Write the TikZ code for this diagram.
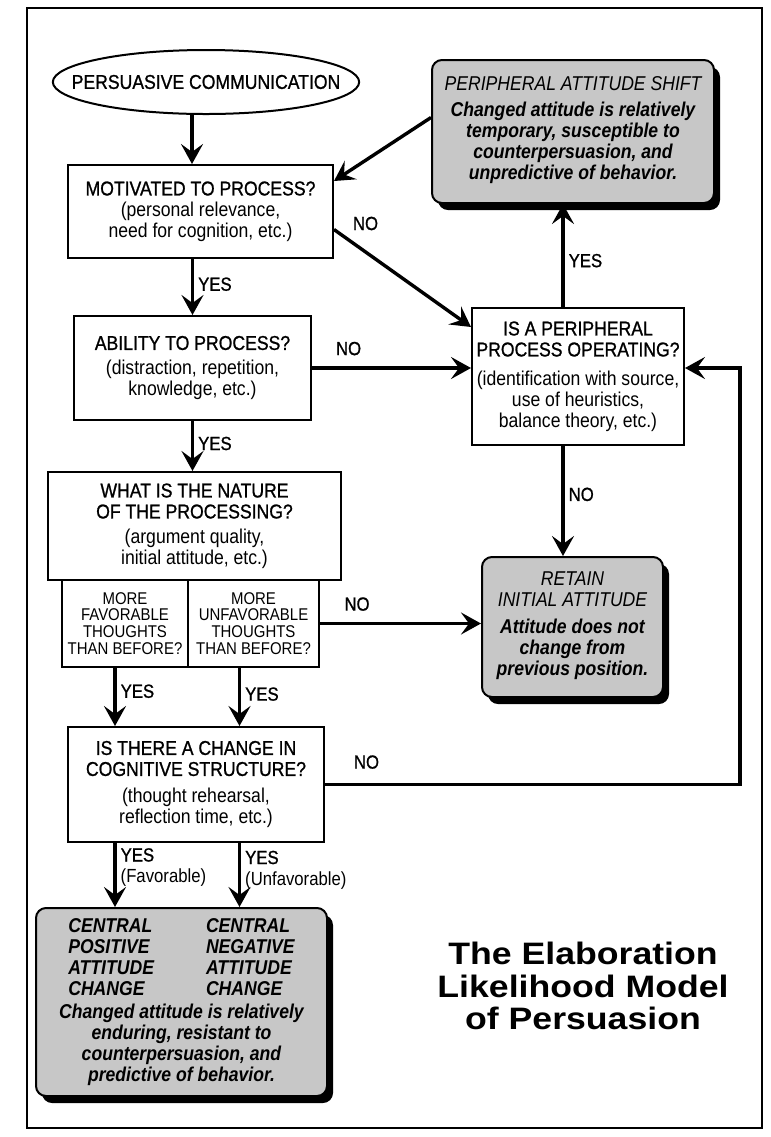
\documentclass[tikz,border=0pt]{standalone}
\usepackage{fontspec}
\setmainfont{Liberation Sans}[FakeStretch=0.88]
\newfontfamily\headfont{Liberation Sans}[FakeStretch=0.88, FakeBold=1]
\newfontfamily\titlefont{Liberation Sans}[FakeStretch=1.15]
\usetikzlibrary{arrows.meta,shapes.geometric,shadows}

\begin{document}
\begin{tikzpicture}[x=0.5pt, y=-0.5pt,
  box/.style = {draw, line width=1pt, inner sep=2pt, align=center,
    font=\fontsize{10}{10.5}\selectfont},
  note/.style = {box, rounded corners=5pt, fill=black!22,
    drop shadow={shadow xshift=3pt, shadow yshift=-3.5pt, opacity=1, fill=black},
    font=\fontsize{10}{10.5}\selectfont\itshape},
  small/.style = {box, font=\fontsize{8.5}{8.4}\selectfont},
  arr/.style = {line width=1.7pt, -{Stealth[length=10pt, width=11pt, inset=4pt]}},
  lab/.style = {font=\fontsize{9.5}{10.5}\selectfont, inner sep=2pt}]

  \useasboundingbox (0,0) rectangle (771,1137);
  \draw[line width=1pt] (27,8) rectangle (762,1128);

  % central route
  \node[draw, ellipse, line width=1pt, minimum height=32pt, inner xsep=-13pt, inner ysep=0pt,
    font=\fontsize{10}{10.5}\selectfont\headfont] (comm) at (206,82) {PERSUASIVE COMMUNICATION};
  \node[box, minimum width=132.5pt, minimum height=46.5pt] (motiv) at (200.5,211.5)
    {{\headfont MOTIVATED TO PROCESS?}\\ (personal relevance,\\ need for cognition, etc.)};
  \node[box, minimum width=118.5pt, minimum height=52pt] (ability) at (192.5,368)
    {{\headfont ABILITY TO PROCESS?}\\[2pt] (distraction, repetition,\\ knowledge, etc.)};
  \node[box, minimum width=146.5pt, minimum height=54pt] (nature) at (194.5,526)
    {{\headfont WHAT IS THE NATURE}\\ {\headfont OF THE PROCESSING?}\\[2pt] (argument quality,\\ initial attitude, etc.)};
  \node[small, minimum width=63pt, minimum height=43.5pt] (fav) at (125,623.5)
    {MORE\\ FAVORABLE\\ THOUGHTS\\ THAN BEFORE?};
  \node[small, minimum width=65.5pt, minimum height=43.5pt] (unfav) at (253.5,623.5)
    {MORE\\ UNFAVORABLE\\ THOUGHTS\\ THAN BEFORE?};
  \node[box, minimum width=128pt, minimum height=57.5pt] (change) at (196,784.5)
    {{\headfont IS THERE A CHANGE IN}\\ {\headfont COGNITIVE STRUCTURE?}\\[3pt] (thought rehearsal,\\ reflection time, etc.)};
  \node[note, minimum width=145.5pt, minimum height=94pt,
    font=\fontsize{10}{10.5}\selectfont\bfseries\itshape] (central) at (181.5,1002)
    {\begin{tabular}{@{}l@{\hspace{26pt}}l@{}}CENTRAL & CENTRAL\\ POSITIVE & NEGATIVE\\
      ATTITUDE & ATTITUDE\\ CHANGE & CHANGE\end{tabular}\\
     Changed attitude is relatively\\ enduring, resistant to\\ counterpersuasion, and\\ predictive of behavior.};

  % peripheral route
  \node[note, minimum width=141pt, minimum height=71.5pt] (shift) at (573,131.5)
    {PERIPHERAL ATTITUDE SHIFT\\[4.5pt]
     {\bfseries\begin{tabular}{@{}c@{}}Changed attitude is relatively\\ temporary, susceptible to\\
      counterpersuasion, and\\ unpredictive of behavior.\end{tabular}}};
  \node[box, minimum width=106pt, minimum height=68.5pt] (periph) at (578,376.5)
    {{\headfont IS A PERIPHERAL}\\ {\headfont PROCESS OPERATING?}\\[4pt] (identification with source,\\ use of heuristics,\\ balance theory, etc.)};
  \node[note, minimum width=90.5pt, minimum height=70pt] (retain) at (572.5,627)
    {RETAIN\\ INITIAL ATTITUDE\\[5pt]
     {\bfseries\begin{tabular}{@{}c@{}}Attitude does not\\ change from\\ previous position.\end{tabular}}};

  \node[font=\titlefont\bfseries\fontsize{15.5}{16.25}\selectfont, align=center] (title) at (583,986)
    {The Elaboration\\ Likelihood Model\\ of Persuasion};

  \coordinate (loop) at (740,368);

  \draw[arr] ([xshift=-7pt]comm.south) -- ([xshift=-7pt]comm.south |- motiv.north);
  \draw[arr] (ability.north |- motiv.south) -- node[lab, right, pos=0.45] {\headfont YES} (ability.north);
  \draw[arr] (ability.south) -- node[lab, right, pos=0.45] {\headfont YES} (ability.south |- nature.north);
  \draw[arr] ([xshift=-5pt]fav.south) -- node[lab, right, pos=0.4] {\headfont YES} ([xshift=-5pt]fav.south |- change.north);
  \draw[arr] ([xshift=-7pt]unfav.south) -- node[lab, right, pos=0.45] {\headfont YES} ([xshift=-7pt]unfav.south |- change.north);
  \draw[arr] ([xshift=-5pt]fav.south |- change.south) -- node[lab, right, align=left, pos=0.38] {{\headfont YES}\\ (Favorable)}
    ([xshift=-5pt]fav.south |- central.north);
  \draw[arr] ([xshift=-7pt]unfav.south |- change.south) -- node[lab, right, align=left, pos=0.42] {{\headfont YES}\\ (Unfavorable)}
    ([xshift=-7pt]unfav.south |- central.north);

  \draw[arr] ([yshift=7pt]shift.west) -- ([yshift=-8.5pt]motiv.north east);
  \draw[arr] ([yshift=-9pt]motiv.east) -- node[lab, pos=0.23, above, yshift=8pt] {\headfont NO} ([yshift=-10pt]periph.north west);
  \draw[arr] (ability.east) -- node[lab, pos=0.23, above, yshift=3.5pt] {\headfont NO} (ability.east -| periph.west);
  \draw[arr] (unfav.east) -- node[lab, pos=0.23, above, yshift=3.5pt] {\headfont NO} (unfav.east -| retain.west);
  \draw[arr] ([xshift=-7.5pt]periph.north) -- node[lab, right, pos=0.45] {\headfont YES} ([xshift=-7.5pt]periph.north |- shift.south);
  \draw[arr] ([xshift=-7.5pt]periph.south) -- node[lab, right, pos=0.44] {\headfont NO} ([xshift=-7.5pt]periph.south |- retain.north);
  \draw[arr] (change.east) -| node[lab, pos=0.05, above, yshift=5pt] {\headfont NO} (loop) -- (loop -| periph.east);
\end{tikzpicture}
\end{document}
